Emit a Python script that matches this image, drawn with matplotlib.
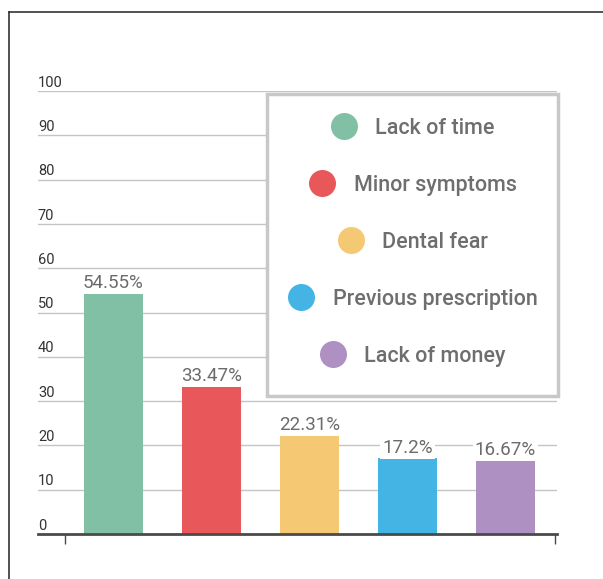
import matplotlib
matplotlib.use("Agg")
import matplotlib.pyplot as plt
from matplotlib.patches import Rectangle
from matplotlib.lines import Line2D

categories = ["Lack of time", "Minor symptoms", "Dental fear", "Previous prescription", "Lack of money"]
values = [54.55, 33.47, 22.31, 17.2, 16.67]
value_labels = ["54.55%", "33.47%", "22.31%", "17.2%", "16.67%"]
colors = ["#82c0a5", "#e8585a", "#f5c874", "#44b4e4", "#ae90c2"]
yticks = [0, 10, 20, 30, 40, 50, 60, 70, 80, 90, 100]

plt.rcParams['font.family'] = ['Roboto', 'DejaVu Sans']

W, H = 603, 579
fig = plt.figure(figsize=(W / 100, H / 100), dpi=100)

def fx(px):
    return px / W

def fy(py):
    return 1 - py / H

# axes placement (pixels)
axL, axR, axT, axB = 38, 557, 91, 534
ax = fig.add_axes([fx(axL), fy(axB), fx(axR) - fx(axL), fy(axT) - fy(axB)])
ax.set_ylim(0, 100)
unit = 98.0
ax.set_xlim(-0.5 - (64.5 - axL) / unit, 4.5 + (axR - 554.5) / unit)

for s in ["top", "right", "left"]:
    ax.spines[s].set_visible(False)
ax.spines["bottom"].set_color("#4a4a4a")
ax.spines["bottom"].set_linewidth(2.0)
ax.set_yticks([])
ax.set_xticks([-0.5, 4.5])
ax.set_xticklabels([])
ax.tick_params(axis="x", direction="out", length=7, width=1.0, color="#4a4a4a")

# gridlines and y labels
for t in yticks:
    if t > 0:
        ax.axhline(t, color="#c4c4c4", lw=1.0, zorder=0)
    ax.annotate(str(t), xy=(0, t), xycoords=("axes fraction", "data"),
                xytext=(0, 1), textcoords="offset points",
                ha="left", va="bottom", fontsize=10.5, color="#333333")

x = list(range(len(values)))
ax.bar(x, values, width=0.6, color=colors, zorder=2)

for xi, v, lab in zip(x, values, value_labels):
    ax.annotate(lab, xy=(xi, v), xytext=(0, 0.5), textcoords="offset points",
                ha="center", va="bottom", fontsize=13.5, color="#6b6b6b", zorder=4,
                bbox=dict(boxstyle="square,pad=0.1", fc="white", ec="none"))

# legend box
lx0, lx1, ly0, ly1 = 267, 558, 94, 396
rect = Rectangle((fx(lx0), fy(ly1)), fx(lx1) - fx(lx0), fy(ly0) - fy(ly1),
                 transform=fig.transFigure, facecolor="white", edgecolor="#c8c8c8",
                 linewidth=2.5, zorder=5)
fig.add_artist(rect)

centers_y = [126, 183, 240, 297, 354]
fig.canvas.draw()
renderer = fig.canvas.get_renderer()
cx = (lx0 + lx1) / 2
diam = 27
gap = 18
for cat, col, yy in zip(categories, colors, centers_y):
    txt = fig.text(0, fy(yy + 2.5), cat, fontsize=15.5, fontweight="medium", color="#6e6e6e",
                   ha="left", va="center", zorder=6)
    bb = txt.get_window_extent(renderer)
    tw = bb.width
    total = diam + gap + tw
    start = cx - total / 2
    txt.set_x(fx(start + diam + gap))
    fig.add_artist(Line2D([fx(start + diam / 2)], [fy(yy)], marker="o", markersize=diam * 0.72,
                          color=col, markeredgewidth=0, linestyle="none",
                          transform=fig.transFigure, zorder=6))

# frame lines (top and left)
fig.add_artist(Line2D([fx(9), 1], [fy(12), fy(12)], color="#333333", lw=1.2, transform=fig.transFigure))
fig.add_artist(Line2D([fx(9), fx(9)], [0, fy(12)], color="#333333", lw=1.2, transform=fig.transFigure))

fig.savefig("out.png", dpi=100)
